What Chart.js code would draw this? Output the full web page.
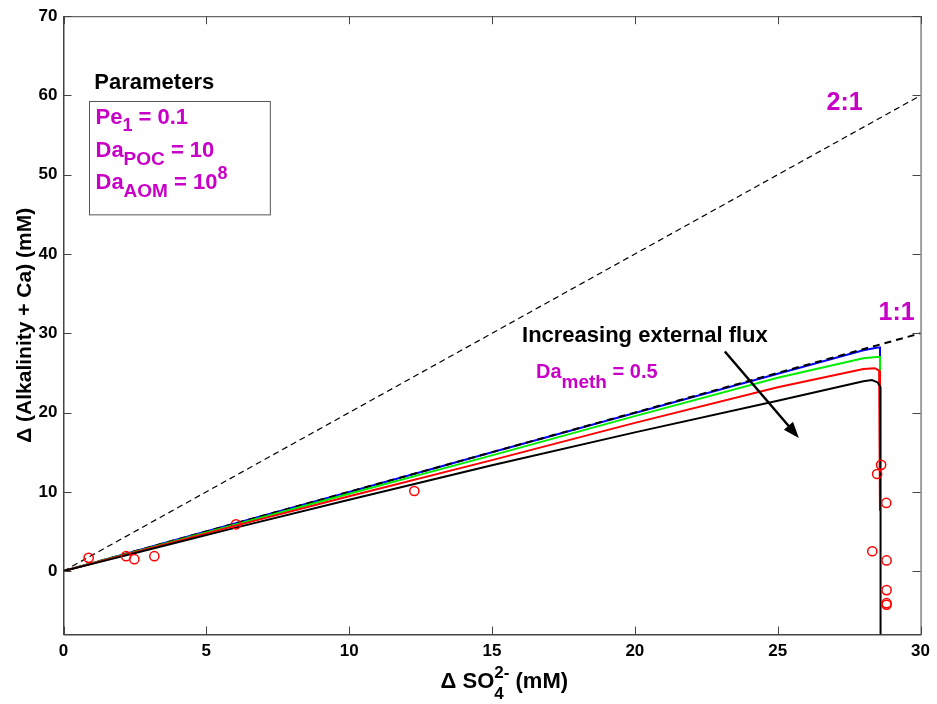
<!DOCTYPE html>
<html>
<head>
<meta charset="utf-8">
<script src="https://cdn.jsdelivr.net/npm/chart.js@4.4.1/dist/chart.umd.min.js"></script>
<style>
  body { margin: 0; background: #fff; }
</style>
</head>
<body>
<canvas id="alkChart" width="937" height="704"></canvas>
<script>
// model curves (delta SO4 vs delta Alk+Ca), one per external flux
var blueX  = [0, 1, 3, 6, 10, 15, 20, 25, 28, 28.5, 28.58, 28.58];
var blueY  = [0, 1.0, 3.0, 6.0, 9.98, 15.0, 19.95, 24.9, 27.85, 28.2, 28.2, 7.6];
var greenX = [0, 1, 3, 6, 10, 15, 20, 25, 28, 28.45, 28.58, 28.58];
var greenY = [0, 0.98, 2.93, 5.85, 9.75, 14.6, 19.55, 24.4, 26.85, 27.0, 27.0, 7.6];
var redX   = [0, 1, 3, 6, 10, 15, 20, 25, 28, 28.4, 28.55, 28.58, 28.58];
var redY   = [0, 0.95, 2.85, 5.7, 9.45, 14.0, 18.7, 23.2, 25.5, 25.6, 25.3, 25.0, 7.6];
var blackX = [0, 1, 3, 6, 10, 15, 20, 25, 28, 28.3, 28.5, 28.6, 28.6, 28.6];
var blackY = [0, 0.91, 2.72, 5.45, 9.0, 13.35, 17.5, 21.5, 23.95, 24.1, 23.8, 23.2, 7.6, -8];

// reference ratio lines
var ratioX = [0, 30];
var oneToOneY = [0, 30];
var twoToOneY = [0, 60];

// measured data (red circles)
var obsX = [0.88, 2.19, 2.48, 3.18, 6.04, 12.28, 28.62, 28.48, 28.8, 28.31, 28.81, 28.81, 28.81, 28.81];
var obsY = [1.67, 1.88, 1.5, 1.88, 5.9, 10.1, 13.4, 12.25, 8.6, 2.5, 1.34, -2.4, -4.05, -4.25];

// ticks
var xTicks = [0, 5, 10, 15, 20, 25, 30];
var yTicks = [0, 10, 20, 30, 40, 50, 60, 70];

var MAG = '#C800C8';
var FONT = '"Liberation Sans", Arial, sans-serif';

function pts(xs, ys) {
    return xs.map(function (x, i) { return { x: x, y: ys[i] }; });
}

function lineSet(xs, ys, color, width, dash) {
    return {
        data: pts(xs, ys),
        showLine: true,
        borderColor: color,
        borderWidth: width,
        borderDash: dash || [],
        pointRadius: 0,
        fill: false,
        tension: 0
    };
}

// draw text pieces one after the other, some lowered (sub) or raised (sup)
function richText(ctx, x, y, parts, color) {
    ctx.fillStyle = color;
    ctx.textBaseline = 'alphabetic';
    ctx.textAlign = 'left';
    parts.forEach(function (p) {
        ctx.font = 'bold ' + p.size + 'px ' + FONT;
        ctx.fillText(p.t, x, y + (p.dy || 0));
        x += ctx.measureText(p.t).width;
    });
}

var annotations = {
    id: 'annotations',
    afterDraw: function (chart) {
        var ctx = chart.ctx;
        var xs = chart.scales.x, ys = chart.scales.y;
        var a = chart.chartArea;
        var px = function (v) { return xs.getPixelForValue(v); };
        var py = function (v) { return ys.getPixelForValue(v); };
        ctx.save();

        // box + inward ticks on all sides
        ctx.strokeStyle = '#444';
        ctx.lineWidth = 1;
        ctx.strokeRect(a.left + 0.5, a.top + 0.5, a.right - a.left, a.bottom - a.top);
        ctx.beginPath();
        xTicks.forEach(function (t) {
            var x = Math.round(px(t)) + 0.5;
            ctx.moveTo(x, a.bottom); ctx.lineTo(x, a.bottom - 8);
            ctx.moveTo(x, a.top); ctx.lineTo(x, a.top + 8);
        });
        yTicks.forEach(function (t) {
            var y = Math.round(py(t)) + 0.5;
            ctx.moveTo(a.left, y); ctx.lineTo(a.left + 8, y);
            ctx.moveTo(a.right, y); ctx.lineTo(a.right - 8, y);
        });
        ctx.stroke();

        // x axis title: delta SO4 with stacked 4 / 2-
        var tx = px(13.2), ty = chart.height - 16;
        richText(ctx, tx, ty, [
            { t: '\u0394 SO', size: 22 },
            { t: '4', size: 17, dy: 11 }
        ], '#000');
        ctx.font = 'bold 22px ' + FONT;
        tx += ctx.measureText('\u0394 SO').width;
        richText(ctx, tx, ty, [
            { t: '2-', size: 17, dy: -10 },
            { t: ' (mM)', size: 22 }
        ], '#000');

        // parameter block
        richText(ctx, px(1.08), py(60.8), [{ t: 'Parameters', size: 22 }], '#000');
        ctx.strokeStyle = '#555';
        ctx.lineWidth = 1;
        ctx.strokeRect(Math.round(px(0.91)) + 0.5, Math.round(py(59.3)) + 0.5,
            px(7.24) - px(0.91), py(45.0) - py(59.3));
        richText(ctx, px(1.12), py(56.4), [
            { t: 'Pe', size: 22 }, { t: '1', size: 18, dy: 7 }, { t: ' = 0.1', size: 22 }
        ], MAG);
        richText(ctx, px(1.12), py(52.2), [
            { t: 'Da', size: 22 }, { t: 'POC', size: 19, dy: 8 }, { t: ' = 10', size: 22 }
        ], MAG);
        richText(ctx, px(1.12), py(48.2), [
            { t: 'Da', size: 22 }, { t: 'AOM', size: 19, dy: 8 }, { t: ' = 10', size: 22 },
            { t: '8', size: 18, dy: -10 }
        ], MAG);

        // ratio labels
        richText(ctx, px(26.71), py(58.2), [{ t: '2:1', size: 25 }], MAG);
        richText(ctx, px(28.53), py(31.7), [{ t: '1:1', size: 25 }], MAG);

        // flux annotation and arrow
        richText(ctx, px(16.05), py(28.95), [{ t: 'Increasing external flux', size: 22 }], '#000');
        richText(ctx, px(16.54), py(24.3), [
            { t: 'Da', size: 20 }, { t: 'meth', size: 19, dy: 10 }, { t: ' = 0.5', size: 20 }
        ], MAG);

        var x1 = px(23.15), y1 = py(27.7), x2 = px(25.74), y2 = py(16.8);
        var ang = Math.atan2(y2 - y1, x2 - x1);
        ctx.strokeStyle = '#000';
        ctx.fillStyle = '#000';
        ctx.lineWidth = 2.5;
        ctx.beginPath();
        ctx.moveTo(x1, y1);
        ctx.lineTo(x2 - 12 * Math.cos(ang), y2 - 12 * Math.sin(ang));
        ctx.stroke();
        ctx.beginPath();
        ctx.moveTo(x2, y2);
        ctx.lineTo(x2 - 16 * Math.cos(ang) + 6 * Math.sin(ang), y2 - 16 * Math.sin(ang) - 6 * Math.cos(ang));
        ctx.lineTo(x2 - 16 * Math.cos(ang) - 6 * Math.sin(ang), y2 - 16 * Math.sin(ang) + 6 * Math.cos(ang));
        ctx.closePath();
        ctx.fill();

        ctx.restore();
    }
};

var ctx = document.getElementById('alkChart');
var alkChart = new Chart(ctx, {
    type: 'scatter',
    data: {
        datasets: [
            {
                data: pts(obsX, obsY),
                showLine: false,
                pointStyle: 'circle',
                pointRadius: 4.6,
                pointBorderColor: '#FF0000',
                pointBackgroundColor: 'rgba(0,0,0,0)',
                pointBorderWidth: 1.5
            },
            lineSet(blackX, blackY, '#000000', 2),
            lineSet(redX, redY, '#FF0000', 2),
            lineSet(greenX, greenY, '#00EE00', 2),
            lineSet(ratioX, oneToOneY, '#000000', 2, [7, 5]),
            lineSet(blueX, blueY, '#0000FF', 2),
            lineSet(ratioX, twoToOneY, '#000000', 1.2, [6, 4])
        ]
    },
    options: {
        responsive: false,
        animation: false,
        devicePixelRatio: 1,
        layout: { padding: { left: 0, top: 13, right: 15, bottom: 0 } },
        plugins: {
            legend: { display: false },
            tooltip: { enabled: false }
        },
        scales: {
            x: {
                type: 'linear',
                min: 0,
                max: 30,
                afterBuildTicks: function (s) { s.ticks = xTicks.map(function (v) { return { value: v }; }); },
                afterFit: function (s) { s.height = 69.5; },
                grid: { display: true, drawOnChartArea: false, drawTicks: false },
                border: { display: true, color: '#444' },
                ticks: {
                    padding: 7,
                    color: '#000',
                    font: { family: FONT, size: 17, weight: 'bold' }
                }
            },
            y: {
                type: 'linear',
                min: -8,
                max: 70,
                afterBuildTicks: function (s) { s.ticks = yTicks.map(function (v) { return { value: v }; }); },
                afterFit: function (s) { s.width = 63.5; },
                grid: { display: true, drawOnChartArea: false, drawTicks: false },
                border: { display: true, color: '#444' },
                title: {
                    display: true,
                    text: '\u0394 (Alkalinity + Ca) (mM)',
                    color: '#000',
                    padding: { top: 13, bottom: 0 },
                    font: { family: FONT, size: 21, weight: 'bold' }
                },
                ticks: {
                    padding: 6,
                    color: '#000',
                    font: { family: FONT, size: 17, weight: 'bold' }
                }
            }
        }
    },
    plugins: [annotations]
});
</script>
</body>
</html>
